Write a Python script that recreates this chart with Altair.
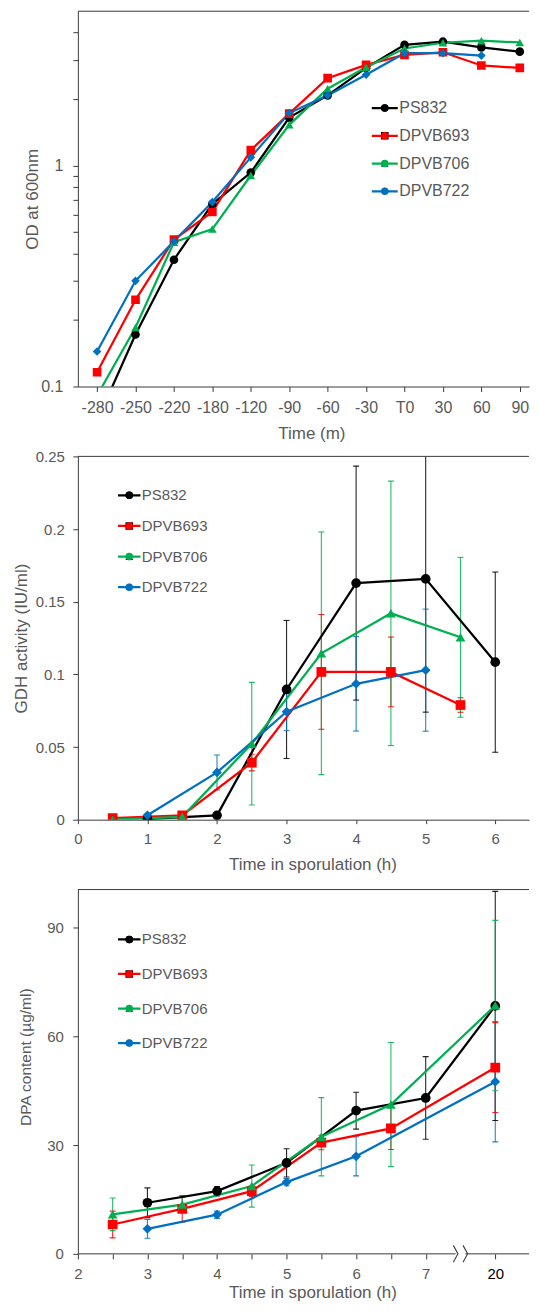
import json
import altair as alt
import pandas as pd

FONT = "Liberation Sans"
TEXT = "#595959"
LINE = "#3a3a3a"

SERIES = ["PS832", "DPVB693", "DPVB706", "DPVB722"]
COLORS = ["#000000", "#FF0000", "#00B050", "#0070C0"]
SHAPES = ["circle", "square", "triangle-up", "diamond"]

# ---------------- Panel 1: OD at 600 nm ----------------
OD_TIMES = ["-280", "-250", "-220", "-180", "-120", "-90", "-60", "-30", "T0", "30", "60", "90"]
OD_PS832 = [0.070, 0.172, 0.375, 0.67, 0.93, 1.65, 2.08, 2.77, 3.52, 3.64, 3.43, 3.28]
OD_DPVB693 = [0.116, 0.247, 0.463, 0.617, 1.175, 1.72, 2.49, 2.86, 3.17, 3.26, 2.84, 2.77]
OD_DPVB706 = [0.091, 0.185, 0.450, 0.516, 0.902, 1.53, 2.23, 2.79, 3.39, 3.60, 3.68, 3.61]
OD_DPVB722 = [0.144, 0.301, 0.454, 0.684, 1.09, 1.73, 2.08, 2.58, 3.23, 3.23, 3.15, None]
OD_TICKS = [0.1, 0.2, 0.3, 0.4, 0.5, 0.6, 0.7, 0.8, 0.9, 1, 2, 3, 4]
OD_TICK_LABELS = ["0.1", "", "", "", "", "", "", "", "", "1", "", "", ""]

# ---------------- Panel 2: GDH activity ----------------
GDH_PS832_T = [1, 2, 3, 4, 5, 6]
GDH_PS832_V = [0.0005, 0.003, 0.0896, 0.1628, 0.1657, 0.1084]
GDH_PS832_E = [0, 0, 0.0475, 0.0805, 0.0917, 0.062]
GDH_DPVB693_T = [0.5, 1.5, 2.5, 3.5, 4.5, 5.5]
GDH_DPVB693_V = [0.001, 0.003, 0.0393, 0.1017, 0.1017, 0.0789]
GDH_DPVB693_E = [0, 0, 0.0057, 0.0395, 0.024, 0.005]
GDH_DPVB706_T = [0.5, 1.5, 2.5, 3.5, 4.5, 5.5]
GDH_DPVB706_V = [0.0, 0.002, 0.0523, 0.1145, 0.142, 0.1255]
GDH_DPVB706_E = [0, 0, 0.0422, 0.0835, 0.091, 0.055]
GDH_DPVB722_T = [1, 2, 3, 4, 5]
GDH_DPVB722_V = [0.003, 0.0325, 0.0743, 0.0935, 0.1029]
GDH_DPVB722_E = [0, 0.012, 0.013, 0.0325, 0.042]
GDH_TICKS_X = [0, 1, 2, 3, 4, 5, 6]
GDH_TICKS_Y = [0, 0.05, 0.1, 0.15, 0.2, 0.25]

# ---------------- Panel 3: DPA content ----------------
DPA_PS832_T = [3, 4, 5, 6, 7, 20]
DPA_PS832_V = [14.1, 17.3, 25.1, 39.5, 43.0, 68.4]
DPA_PS832_E = [4.1, 1.3, 3.9, 5.1, 11.4, 31.6]
DPA_DPVB693_T = [2.5, 3.5, 4.5, 5.5, 6.5, 20]
DPA_DPVB693_V = [8.1, 12.4, 17.3, 30.7, 34.6, 51.4]
DPA_DPVB693_E = [3.7, 3.7, 1.5, 2.0, 5.8, 12.4]
DPA_DPVB706_T = [2.5, 3.5, 4.5, 5.5, 6.5, 20]
DPA_DPVB706_V = [10.9, 13.6, 18.7, 32.3, 41.2, 68.5]
DPA_DPVB706_E = [4.5, 2.0, 5.8, 10.8, 17.1, 23.5]
DPA_DPVB722_T = [3, 4, 5, 6, 20]
DPA_DPVB722_V = [6.9, 10.8, 19.8, 26.9, 47.5]
DPA_DPVB722_E = [2.6, 1.0, 1.0, 5.4, 16.6]
DPA_AXIS_TIMES = [2, 2.5, 3, 3.5, 4, 4.5, 5, 5.5, 6, 6.5, 7, 20]
DPA_AXIS_LABELS = ["2", "", "3", "", "4", "", "5", "", "6", "", "7", "20"]
DPA_LAST_REGULAR = 7      # axis is broken after 7 h
DPA_BREAK_SLOT = 8        # the 20 h point is drawn one unit after 7
DPA_BREAK_EDGES = [7.43, 7.57]
DPA_TICKS_Y = [0, 30, 60, 90]


def dpa_pos(t):
    return t if t <= DPA_LAST_REGULAR else DPA_BREAK_SLOT


# ---------------- tables ----------------
od_rows = []
for s, vals in zip(SERIES, [OD_PS832, OD_DPVB693, OD_DPVB706, OD_DPVB722]):
    for i, v in enumerate(vals):
        if v is not None:
            od_rows.append({"series": s, "name": s, "x": i, "v": v, "e": 0.0})
od_df = pd.DataFrame(od_rows)


def long_table(groups, posf=lambda t: t):
    rows = []
    for s, (ts, vs, es) in zip(SERIES, groups):
        for t, v, e in zip(ts, vs, es):
            rows.append({"series": s, "name": s, "x": posf(t), "v": v, "e": e,
                         "lo": v - e, "hi": v + e})
    return pd.DataFrame(rows)


gdh_df = long_table([(GDH_PS832_T, GDH_PS832_V, GDH_PS832_E),
                     (GDH_DPVB693_T, GDH_DPVB693_V, GDH_DPVB693_E),
                     (GDH_DPVB706_T, GDH_DPVB706_V, GDH_DPVB706_E),
                     (GDH_DPVB722_T, GDH_DPVB722_V, GDH_DPVB722_E)])
dpa_df = long_table([(DPA_PS832_T, DPA_PS832_V, DPA_PS832_E),
                     (DPA_DPVB693_T, DPA_DPVB693_V, DPA_DPVB693_E),
                     (DPA_DPVB706_T, DPA_DPVB706_V, DPA_DPVB706_E),
                     (DPA_DPVB722_T, DPA_DPVB722_V, DPA_DPVB722_E)], dpa_pos)

W = 452
H1, H2, H3 = 376, 364, 365
TOP_STEP = 38.5
HOUR_STEP = 69.7


def stroke_legend(lx, ly, rowpad, fs, symsize):
    return alt.Legend(orient="none", legendX=lx, legendY=ly, title=None,
                      symbolType="stroke", symbolSize=symsize, symbolStrokeWidth=2.25,
                      clipHeight=20, rowPadding=rowpad, labelFont=FONT,
                      labelFontSize=fs, labelColor=TEXT, labelOffset=0,
                      symbolOffset=0, padding=0, labelLimit=200)


def shape_legend(lx, ly, rowpad, symoffset):
    return alt.Legend(orient="none", legendX=lx, legendY=ly, title=None,
                      symbolSize=58, symbolStrokeWidth=0, clipHeight=20,
                      rowPadding=rowpad, labelExpr="''", labelFontSize=8,
                      symbolOffset=symoffset, padding=0, symbolOpacity=1)


def panel(df, x_scale, x_ax, y_scale, y_ax, height, leg, msize, errors, extra=None):
    lx, ly, rowpad, fs, symsize, symoff = leg
    x = alt.X("x:Q", scale=x_scale, axis=x_ax)
    y = alt.Y("v:Q", scale=y_scale, axis=y_ax)
    base = alt.Chart(df)
    layers = []
    if errors:
        err = base.transform_filter("datum.e > 0")
        col = alt.Color("series:N", sort=SERIES, scale=alt.Scale(range=COLORS), legend=None)
        layers.append(err.mark_rule(strokeWidth=1.1, opacity=0.85, clip=True).encode(
            x=x, y=alt.Y("lo:Q", scale=y_scale, axis=y_ax), y2="hi:Q", color=col))
        for f in ("lo", "hi"):
            layers.append(err.mark_tick(orient="horizontal", size=6, thickness=1.1,
                                        opacity=0.85, clip=True).encode(
                x=x, y=alt.Y(f + ":Q", scale=y_scale, axis=y_ax), color=col))
    layers.append(base.mark_line(strokeWidth=2.25, clip=True).encode(
        x=x, y=y,
        stroke=alt.Stroke("series:N", sort=SERIES, scale=alt.Scale(range=COLORS),
                          legend=stroke_legend(lx, ly, rowpad, fs, symsize)),
        detail="series:N"))
    sl = shape_legend(lx, ly, rowpad, symoff)
    layers.append(base.mark_point(filled=True, opacity=1, size=msize, strokeWidth=0,
                                  clip=True).encode(
        x=x, y=y,
        fill=alt.Fill("name:N", sort=SERIES, scale=alt.Scale(range=COLORS), legend=sl),
        shape=alt.Shape("name:N", sort=SERIES, scale=alt.Scale(range=SHAPES), legend=sl)))
    frame = alt.Chart(pd.DataFrame({"f": [0]})).mark_rule(color=LINE, strokeWidth=1).encode(
        x=alt.value(0), x2=alt.value("width"), y=alt.value(0))
    layers.append(frame)
    if extra is not None:
        layers.extend(extra(x_scale, x_ax))
    return alt.layer(*layers).properties(width=W, height=height)


def y_axis(values, title, tx, fs, lpad, label_expr=None, fmt=None, ty=None, tfs=17):
    kw = dict(values=values, title=title, titleX=tx, labelFontSize=fs,
              titleFontSize=tfs, labelPadding=lpad, tickSize=5, grid=False)
    if label_expr:
        kw["labelExpr"] = label_expr
    if fmt:
        kw["format"] = fmt
    if ty is not None:
        kw["titleY"] = ty
    return alt.Axis(**kw)


def x_axis(values, title, tx, ty, fs, lpad, label_expr=None, fmt=None, domain=True,
           label_color=None, tick=5):
    kw = dict(values=values, title=title, titleX=tx, titleY=ty, titleBaseline="middle",
              labelFontSize=fs, titleFontSize=17, labelPadding=lpad + 5 - tick,
              tickSize=tick, grid=False, domain=domain)
    if label_expr:
        kw["labelExpr"] = label_expr
    if fmt:
        kw["format"] = fmt
    if label_color is not None:
        kw["labelColor"] = label_color
    return alt.Axis(**kw)


# ---- panel 1 ----
p1 = panel(
    od_df,
    alt.Scale(domain=[-0.5, -0.5 + W / TOP_STEP], nice=False, zero=False),
    x_axis(list(range(len(OD_TIMES))), "Time (m)", 234, 47, 16, 8,
           label_expr=json.dumps(OD_TIMES) + "[datum.value]"),
    alt.Scale(type="log", domain=[0.1, 5], nice=False),
    y_axis(OD_TICKS, "OD at 600nm", -36, 16, 10,
           label_expr=json.dumps(OD_TICK_LABELS) + "[indexof(" + json.dumps(OD_TICKS) + ", datum.value)]"),
    H1, (293, 87, 7.8, 16, 676, 10.5), 75, False)

# ---- panel 2 ----
p2 = panel(
    gdh_df,
    alt.Scale(domain=[0, W / HOUR_STEP], nice=False, zero=False),
    x_axis(GDH_TICKS_X, "Time in sporulation (h)", 235, 45, 15, 7, fmt="d", tick=4),
    alt.Scale(domain=[0, 0.25], nice=False),
    y_axis(GDH_TICKS_Y, "GDH activity  (IU/ml)", -47, 15, 8.5, fmt="~g"),
    H2, (39, 29, 10.7, 15, 506, 8.5), 95, True)

# ---- panel 3 ----
axis_pos = [dpa_pos(t) for t in DPA_AXIS_TIMES]


def dpa_extra(x_scale, x_ax):
    seg1 = pd.DataFrame({"x": [axis_pos[0]], "b": [DPA_BREAK_EDGES[0]]})
    seg2 = pd.DataFrame({"x": [DPA_BREAK_EDGES[1]]})
    chev_df = pd.DataFrame({"x": DPA_BREAK_EDGES})
    xx = alt.X("x:Q", scale=x_scale, axis=x_ax)
    dom1 = alt.Chart(seg1).mark_rule(color=LINE, strokeWidth=1).encode(
        x=xx, x2="b:Q", y=alt.value("height"))
    dom2 = alt.Chart(seg2).mark_rule(color=LINE, strokeWidth=1).encode(
        x=xx, x2=alt.value("width"), y=alt.value("height"))
    chev = alt.Chart(chev_df).mark_point(shape="M-0.27,-1L0.27,0L-0.27,1", filled=False,
                                         size=289, strokeWidth=1.1, color=LINE,
                                         opacity=1).encode(x=xx, y=alt.value("height"))
    return [dom1, dom2, chev]


p3 = panel(
    dpa_df,
    alt.Scale(domain=[2, 2 + W / HOUR_STEP], nice=False, zero=False),
    x_axis(axis_pos, "Time in sporulation (h)", 235, 38.5, 15, 7.5,
           label_expr=json.dumps(DPA_AXIS_LABELS) + "[indexof(" + json.dumps(axis_pos) + ", datum.value)]",
           domain=False,
           label_color={"condition": {"test": "datum.value == %d" % DPA_BREAK_SLOT, "value": "#000000"},
                        "value": TEXT}),
    alt.Scale(domain=[0, 100.5], nice=False),
    y_axis(DPA_TICKS_Y, "DPA content (µg/ml)", -44, 15, 9.5, ty=H3 / 2 - 15, tfs=15.5),
    H3, (39, 40, 14.6, 15, 506, 8.5), 95, True, extra=dpa_extra)

chart = alt.vconcat(p1, p2, p3, spacing=70, bounds="flush",
                    padding={"left": 5, "top": 1, "right": 0, "bottom": 0}).resolve_scale(
    stroke="independent", fill="independent", shape="independent", color="independent"
).resolve_legend(
    stroke="independent", fill="independent", shape="independent", color="independent"
).configure_view(
    stroke=None
).configure_axis(
    labelFont=FONT, titleFont=FONT, labelColor=TEXT, titleColor=TEXT,
    domainColor=LINE, tickColor=LINE, titleFontWeight="normal",
    labelFlush=False, labelOverlap=False, labelBound=False,
    domainWidth=1, tickWidth=1
).configure_legend(labelFont=FONT, labelColor=TEXT)

chart.save("out.html", embed_options={"renderer": "svg", "actions": False})
